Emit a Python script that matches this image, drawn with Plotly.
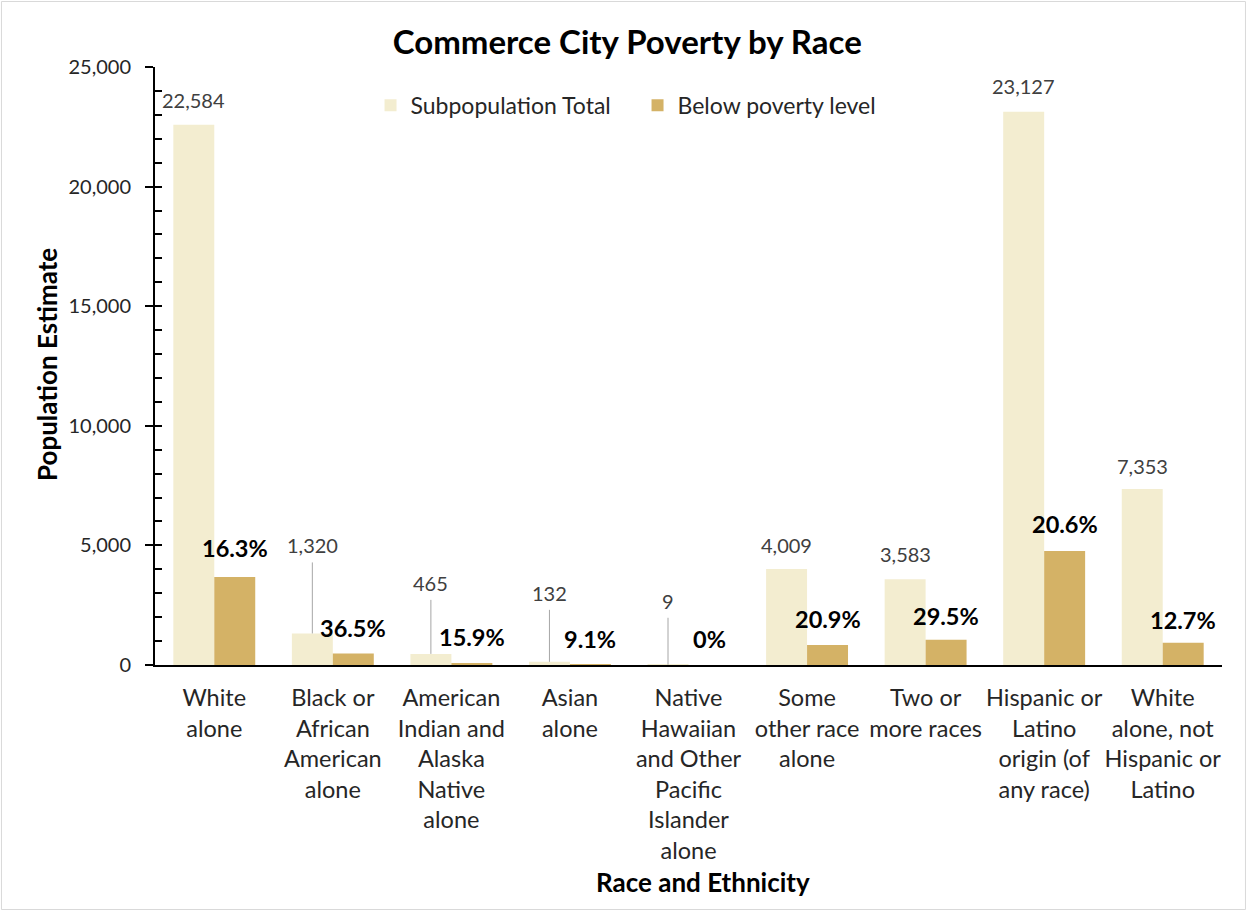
import plotly.graph_objects as go

# Commerce City population and poverty share by race / ethnicity
categories = [
    "White alone",
    "Black or African American alone",
    "American Indian and Alaska Native alone",
    "Asian alone",
    "Native Hawaiian and Other Pacific Islander alone",
    "Some other race alone",
    "Two or more races",
    "Hispanic or Latino origin (of any race)",
    "White alone, not Hispanic or Latino",
]
tick_labels = [
    "White<br>alone",
    "Black or<br>African<br>American<br>alone",
    "American<br>Indian and<br>Alaska<br>Native<br>alone",
    "Asian<br>alone",
    "Native<br>Hawaiian<br>and Other<br>Pacific<br>Islander<br>alone",
    "Some<br>other race<br>alone",
    "Two or<br>more races",
    "Hispanic or<br>Latino<br>origin (of<br>any race)",
    "White<br>alone, not<br>Hispanic or<br>Latino",
]
subpop_total = [22584, 1320, 465, 132, 9, 4009, 3583, 23127, 7353]
poverty_pct = [16.3, 36.5, 15.9, 9.1, 0, 20.9, 29.5, 20.6, 12.7]

below_poverty = [t * p / 100 for t, p in zip(subpop_total, poverty_pct)]

# label lift above the bar top (px); small bars get a raised label with a leader line
total_lift = [25, 88, 71, 69, 64, 24, 25, 26, 23]
pct_lift = [29, 25, 26, 26, 26, 26, 24, 27, 23]
leader = [False, True, True, True, True, False, False, False, False]

CREAM = "#F3EDD0"
GOLD = "#D4B266"
FONT = "Lato"
TXT = "#262626"
HALF = 20.5  # half bar width in px

fig = go.Figure()
fig.add_trace(go.Bar(name="Subpopulation Total", x=categories, y=subpop_total,
                     marker=dict(color=CREAM, line=dict(width=0))))
fig.add_trace(go.Bar(name="Below poverty level", x=categories, y=below_poverty,
                     marker=dict(color=GOLD, line=dict(width=0))))

annotations = []
shapes = []
for cat, tot, pct, pov, tl, pl, ld in zip(categories, subpop_total, poverty_pct,
                                          below_poverty, total_lift, pct_lift, leader):
    annotations.append(dict(x=cat, y=tot, xref="x", yref="y", text=f"{tot:,}",
                            showarrow=False, xshift=-HALF, yshift=tl,
                            xanchor="center", yanchor="middle",
                            font=dict(family=FONT, size=20, color="#404040")))
    pct_txt = f"{pct:g}%"
    annotations.append(dict(x=cat, y=pov, xref="x", yref="y", text=f"<b>{pct_txt}</b>",
                            showarrow=False, xshift=HALF, yshift=pl,
                            xanchor="center", yanchor="middle",
                            font=dict(family=FONT, size=23.5, color="#000000")))
    if ld:
        shapes.append(dict(type="line", xref="x", yref="y",
                           xsizemode="pixel", ysizemode="pixel",
                           xanchor=cat, yanchor=tot,
                           x0=-HALF, x1=-HALF, y0=0, y1=tl - 17,
                           line=dict(color="#A6A6A6", width=1)))

# chart-area border
shapes.append(dict(type="rect", xref="paper", yref="paper",
                   x0=-0.1439, x1=1.0220, y0=-0.4089, y1=1.1095,
                   line=dict(color="#D9D9D9", width=1), layer="below"))

annotations.append(dict(text="<b>Race and Ethnicity</b>", xref="paper", yref="paper",
                        x=0.5136, y=-0.3629, showarrow=False,
                        xanchor="center", yanchor="middle",
                        font=dict(family=FONT, size=26, color="#000000")))
annotations.append(dict(text="<b>Population Estimate</b>", xref="paper", yref="paper",
                        x=-0.1012, y=0.5017, showarrow=False, textangle=-90,
                        xanchor="center", yanchor="middle",
                        font=dict(family=FONT, size=26, color="#000000")))

fig.update_layout(
    width=1247, height=911,
    margin=dict(l=155, r=25, t=67, b=246),
    paper_bgcolor="white", plot_bgcolor="white",
    barmode="group", bargap=0.309, bargroupgap=0,
    font=dict(family=FONT, color=TXT),
    title=dict(text="<b>Commerce City Poverty by Race</b>", x=0.503, y=0.953,
               xref="container", yref="container", xanchor="center", yanchor="middle",
               font=dict(family=FONT, size=33, color="#000000")),
    legend=dict(orientation="h", x=0.202, y=0.936, xanchor="left", yanchor="middle",
                font=dict(family=FONT, size=23, color=TXT), bgcolor="rgba(0,0,0,0)",
                traceorder="normal", entrywidth=222),
    xaxis=dict(tickvals=categories, ticktext=tick_labels, showline=True,
               linecolor="#000000", linewidth=2, ticks="", showgrid=False,
               tickangle=0,
               tickfont=dict(family=FONT, size=23.5, color=TXT), ticklabelstandoff=11),
    yaxis=dict(range=[0, 25000], dtick=5000, tickformat=",d", showline=True,
               linecolor="#000000", linewidth=2, ticks="outside", ticklen=8,
               tickwidth=2, tickcolor="#000000", showgrid=False, zeroline=False,
               tickfont=dict(family=FONT, size=20, color=TXT), ticklabelstandoff=10),
    yaxis2=dict(range=[0, 25000], dtick=1000, overlaying="y", side="left",
                ticks="inside", ticklen=7, tickwidth=2, tickcolor="#000000",
                showticklabels=False, showgrid=False, zeroline=False, showline=False),
    annotations=annotations,
    shapes=shapes,
)
# invisible trace to activate the minor-tick axis
fig.add_trace(go.Scatter(x=[categories[0]], y=[0], yaxis="y2", mode="markers",
                         marker=dict(opacity=0), showlegend=False, hoverinfo="skip"))

fig.write_html("out.html")
